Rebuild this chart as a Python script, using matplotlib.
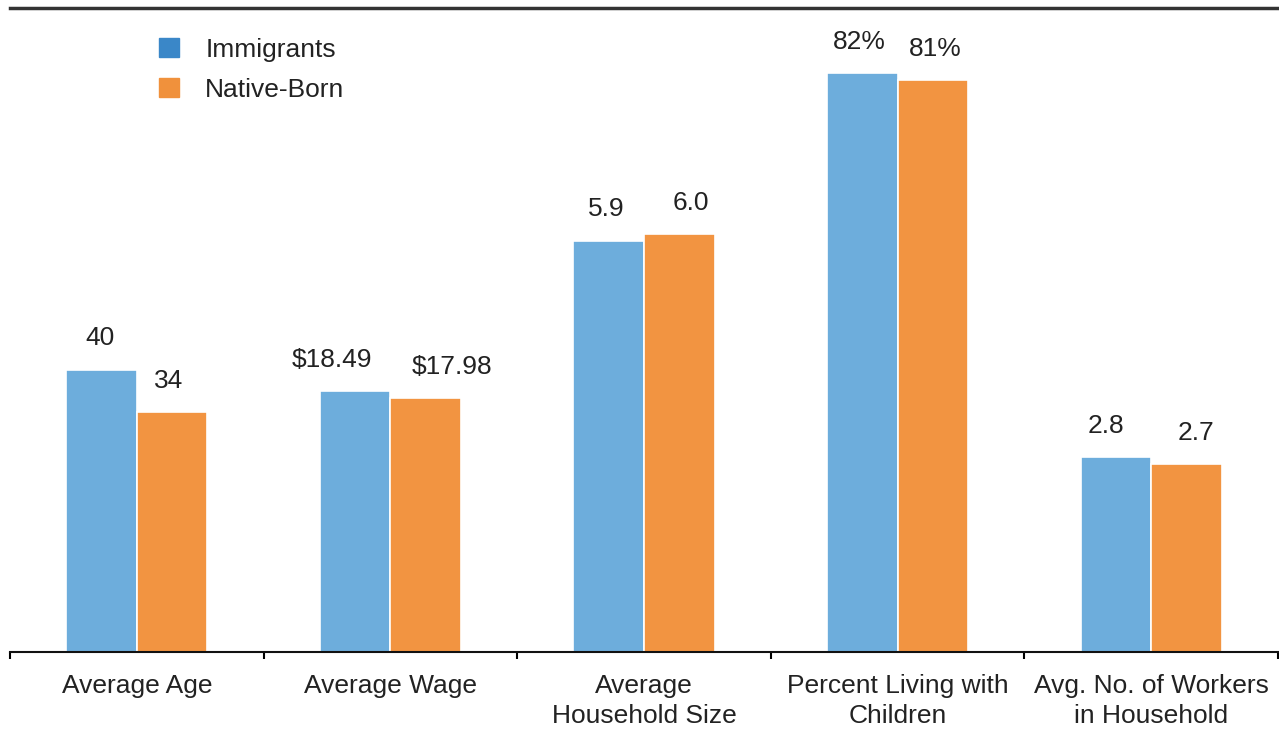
import numpy as np
import matplotlib.pyplot as plt

plt.rcParams['font.family'] = ['Liberation Sans', 'DejaVu Sans']

categories = ["Average Age", "Average Wage", "Average\nHousehold Size",
              "Percent Living with\nChildren", "Avg. No. of Workers\nin Household"]
immigrants = [40, 18.49, 5.9, 82, 2.8]
native_born = [34, 17.98, 6.0, 81, 2.7]
imm_labels = ["40", "$18.49", "5.9", "82%", "2.8"]
nat_labels = ["34", "$17.98", "6.0", "81%", "2.7"]

# each measure has its own units, so bars are stretched per group for display
display_scale = np.array([1.0, 2.0, 9.87, 1.0, 9.87])

# sideways nudges (points) keeping the value labels clear of each other
imm_nudge = [-1, -17, -2, -2.5, -7]
nat_nudge = [-2.5, 19, 8.5, 2, 7]

blue_bar = "#6daddc"
orange_bar = "#f29441"
blue_key = "#3a87c8"
orange_key = "#f0913c"
text_color = "#222222"

fig = plt.figure(figsize=(12.79, 7.29), dpi=100)
ax = fig.add_axes([10 / 1279, 1 - 652 / 729, 1268 / 1279, 644 / 729])

x = np.arange(len(categories))
w = 0.278
h_imm = np.array(immigrants) * display_scale
h_nat = np.array(native_born) * display_scale

ax.bar(x - w / 2, h_imm, w, color=blue_bar, edgecolor="white", linewidth=1.2)
ax.bar(x + w / 2, h_nat, w, color=orange_bar, edgecolor="white", linewidth=1.2)

for xi, h, lab, dx in zip(x - w / 2, h_imm, imm_labels, imm_nudge):
    ax.annotate(lab, (xi, h), xytext=(dx, 17.5), textcoords="offset points",
                ha="center", va="baseline", fontsize=19, color=text_color)
for xi, h, lab, dx in zip(x + w / 2, h_nat, nat_labels, nat_nudge):
    ax.annotate(lab, (xi, h), xytext=(dx, 17.5), textcoords="offset points",
                ha="center", va="baseline", fontsize=19, color=text_color)

ax.set_xlim(-0.5, len(categories) - 0.5)
ax.set_ylim(0, 91.2)

ax.set_xticks(x)
ax.set_xticklabels(categories, fontsize=19, color=text_color, linespacing=1.32)
ax.tick_params(axis="x", which="major", length=0, pad=16)
ax.set_xticks(np.arange(-0.5, len(categories)), minor=True)
ax.tick_params(axis="x", which="minor", length=5, width=1.5, direction="out")
ax.set_yticks([])

for side in ["left", "right"]:
    ax.spines[side].set_visible(False)
ax.spines["top"].set_linewidth(2.5)
ax.spines["top"].set_color("#333333")
ax.spines["bottom"].set_linewidth(1.5)
ax.spines["bottom"].set_color("#111111")

key_imm = plt.Rectangle((0, 0), 1, 1, color=blue_key)
key_nat = plt.Rectangle((0, 0), 1, 1, color=orange_key)
ax.legend([key_imm, key_nat], ["Immigrants", "Native-Born"],
          loc="upper left", bbox_to_anchor=(149 / 1268, 1 - 30 / 644),
          frameon=False, fontsize=19, handlelength=0.75, handleheight=0.75,
          handletextpad=1.0, labelspacing=0.6, borderaxespad=0,
          borderpad=0, labelcolor=text_color)

fig.savefig("out.png", dpi=100)
